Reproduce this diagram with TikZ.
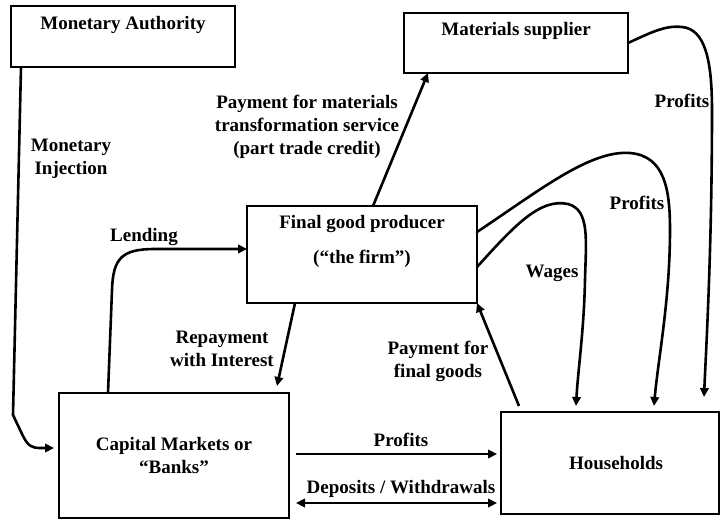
\documentclass[tikz,border=0pt]{standalone}
\usepackage{fontspec}
\setmainfont{Liberation Serif}
\usetikzlibrary{arrows.meta,calc}
\begin{document}
\begin{tikzpicture}[x=1pt,y=-1pt,
  font=\bfseries\fontsize{19}{23}\selectfont,
  box/.style={draw, line width=2.4pt, inner sep=0pt, outer sep=0pt},
  lbl/.style={align=center, inner sep=0pt, anchor=base},
  tip/.tip={Triangle[length=9pt,width=8.5pt]},
  arr/.style={line width=2.6pt, -tip},
  darr/.style={line width=2.6pt, tip-tip}]
\useasboundingbox (0,0) rectangle (721,520);

% boxes
\node[box, minimum width=224pt, minimum height=61pt] (ma) at (123,36.5) {};
\node[box, minimum width=224pt, minimum height=60pt] (ms) at (516,43) {};
\node[box, minimum width=230pt, minimum height=97pt] (fg) at (362,254.5) {};
\node[box, minimum width=230pt, minimum height=125pt] (cm) at (174,455.5) {};
\node[box, minimum width=218pt, minimum height=102pt] (hh) at (610,463) {};

% box texts (base anchor = baseline of the last line)
\node[lbl] (maT) at (123,29) {Monetary Authority};
\node[lbl] (msT) at (516,35) {Materials supplier};
\node[lbl] (fgT) at (362,263) {Final good producer\\[12pt](“the firm”)};
\node[lbl] (cmT) at (174,473) {Capital Markets or\\“Banks”};
\node[lbl] (hhT) at (616,469) {Households};

% connector labels
\node[lbl] (injT) at (71,174) {Monetary\\Injection};
\node[lbl] (lendT) at (144,241) {Lending};
\node[lbl] (pmT) at (307,154) {Payment for materials\\transformation service\\(part trade credit)};
\node[lbl] (repT) at (222,366) {Repayment\\with Interest};
\node[lbl] (pfT) at (438,377) {Payment for\\final goods};
\node[lbl] (wT) at (552,277) {Wages};
\node[lbl] (p1T) at (637,209) {Profits};
\node[lbl] (p2T) at (682,107) {Profits};
\node[lbl] (p3T) at (401,446) {Profits};
\node[lbl] (dwT) at (401,493) {Deposits / Withdrawals};

% connectors
\draw[arr] ([xshift=10pt]ma.south west) -- (13,415) -- (23,436)
  .. controls (28,446) and (32,448) .. (40,448) -- ([xshift=-5pt]cm.west |- 0,448);
\draw[arr] ([xshift=49pt]cm.north west) -- (112,290)
  .. controls (113,258) and (122,249) .. (155,249) -- (fg.west |- 0,249);
\draw[arr] ([xshift=11pt]fg.north) -- ([xshift=24pt]ms.south west);
\draw[arr] ([xshift=48pt]fg.south west) -- ([xshift=-12pt,yshift=7pt]cm.north east);
\draw[arr] ([xshift=18pt,yshift=6pt]hh.north west) -- (fg.south east);
\draw[arr] ([yshift=-12.5pt]fg.east) .. controls (515,225) and (540,198) .. (568,204)
  .. controls (590,210) and (586,240) .. (585,280)
  .. controls (584,330) and (578,370) .. ([xshift=75pt,yshift=6pt]hh.north west);
\draw[arr] ([yshift=22.5pt]fg.east) .. controls (540,190) and (590,150) .. (630,153)
  .. controls (665,156) and (670,190) .. (670,230)
  .. controls (670,300) and (658,360) .. ([xshift=153pt,yshift=6pt]hh.north west);
\draw[arr] (ms.east) .. controls (650,33) and (665,25) .. (682,27)
  .. controls (705,29) and (712,60) .. (712,110)
  .. controls (712,250) and (706,350) .. ([xshift=203pt,yshift=15pt]hh.north west);
\draw[arr] ([xshift=7pt]cm.east |- 0,454) -- ([xshift=-4pt]hh.west |- 0,454);
\draw[darr] ([xshift=7pt]cm.east |- 0,503) -- ([xshift=-4pt]hh.west |- 0,503);
\end{tikzpicture}
\end{document}
